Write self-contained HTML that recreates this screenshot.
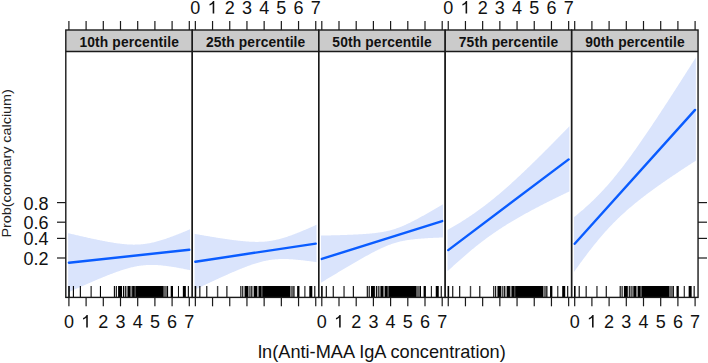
<!DOCTYPE html><html><head><meta charset="utf-8"><style>html,body{margin:0;padding:0;background:#fff;width:708px;height:363px;overflow:hidden}svg{display:block}text{font-family:"Liberation Sans",sans-serif}</style></head><body>
<svg width="708" height="363" viewBox="0 0 708 363">
<defs>
<clipPath id="c0"><rect x="65.80" y="51.50" width="126.45" height="245.90"/></clipPath>
<clipPath id="c1"><rect x="192.25" y="51.50" width="126.45" height="245.90"/></clipPath>
<clipPath id="c2"><rect x="318.70" y="51.50" width="126.45" height="245.90"/></clipPath>
<clipPath id="c3"><rect x="445.15" y="51.50" width="126.45" height="245.90"/></clipPath>
<clipPath id="c4"><rect x="571.60" y="51.50" width="126.45" height="245.90"/></clipPath>
</defs>
<g clip-path="url(#c0)"><path d="M68.13,233.14 L68.90,233.33 L69.76,233.53 L70.62,233.74 L71.48,233.94 L72.34,234.15 L73.20,234.35 L74.06,234.55 L74.92,234.75 L75.78,234.95 L76.64,235.15 L77.50,235.35 L78.36,235.55 L79.22,235.75 L80.08,235.95 L80.94,236.15 L81.80,236.34 L82.66,236.54 L83.52,236.73 L84.38,236.93 L85.24,237.12 L86.10,237.31 L86.96,237.51 L87.82,237.70 L88.68,237.89 L89.54,238.08 L90.40,238.26 L91.26,238.45 L92.12,238.64 L92.98,238.82 L93.84,239.01 L94.70,239.19 L95.56,239.37 L96.42,239.55 L97.28,239.73 L98.14,239.90 L99.00,240.08 L99.86,240.25 L100.72,240.42 L101.58,240.60 L102.44,240.76 L103.30,240.93 L104.16,241.10 L105.02,241.26 L105.88,241.42 L106.74,241.58 L107.60,241.73 L108.46,241.89 L109.32,242.04 L110.18,242.19 L111.04,242.33 L111.90,242.48 L112.76,242.62 L113.62,242.76 L114.48,242.89 L115.34,243.02 L116.20,243.15 L117.06,243.27 L117.92,243.39 L118.78,243.50 L119.64,243.61 L120.50,243.72 L121.36,243.82 L122.22,243.92 L123.08,244.01 L123.94,244.10 L124.80,244.18 L125.66,244.25 L126.52,244.32 L127.38,244.38 L128.24,244.44 L129.10,244.49 L129.96,244.53 L130.82,244.57 L131.68,244.59 L132.54,244.61 L133.40,244.63 L134.26,244.63 L135.12,244.62 L135.98,244.61 L136.84,244.59 L137.70,244.56 L138.56,244.52 L139.42,244.47 L140.28,244.41 L141.14,244.34 L142.00,244.26 L142.86,244.18 L143.72,244.08 L144.58,243.97 L145.44,243.86 L146.30,243.73 L147.16,243.60 L148.02,243.45 L148.88,243.30 L149.74,243.14 L150.60,242.97 L151.46,242.79 L152.32,242.60 L153.18,242.40 L154.04,242.20 L154.90,241.99 L155.76,241.77 L156.62,241.54 L157.48,241.31 L158.34,241.07 L159.20,240.82 L160.06,240.57 L160.92,240.31 L161.78,240.04 L162.64,239.77 L163.50,239.50 L164.36,239.21 L165.22,238.93 L166.08,238.64 L166.94,238.34 L167.80,238.04 L168.66,237.74 L169.52,237.43 L170.38,237.12 L171.24,236.81 L172.10,236.49 L172.96,236.17 L173.82,235.84 L174.68,235.52 L175.54,235.19 L176.40,234.85 L177.26,234.52 L178.12,234.18 L178.98,233.84 L179.84,233.50 L180.70,233.15 L181.56,232.80 L182.42,232.45 L183.28,232.10 L184.14,231.75 L185.00,231.39 L185.86,231.04 L186.72,230.68 L187.58,230.32 L188.44,229.96 L189.30,229.60 L190.07,229.27 L190.07,270.16 L189.30,270.00 L188.44,269.82 L187.58,269.65 L186.72,269.47 L185.86,269.30 L185.00,269.13 L184.14,268.96 L183.28,268.79 L182.42,268.62 L181.56,268.46 L180.70,268.29 L179.84,268.13 L178.98,267.97 L178.12,267.82 L177.26,267.66 L176.40,267.51 L175.54,267.36 L174.68,267.22 L173.82,267.07 L172.96,266.93 L172.10,266.80 L171.24,266.66 L170.38,266.53 L169.52,266.41 L168.66,266.28 L167.80,266.16 L166.94,266.05 L166.08,265.94 L165.22,265.83 L164.36,265.73 L163.50,265.63 L162.64,265.54 L161.78,265.46 L160.92,265.37 L160.06,265.30 L159.20,265.23 L158.34,265.17 L157.48,265.11 L156.62,265.06 L155.76,265.02 L154.90,264.99 L154.04,264.96 L153.18,264.94 L152.32,264.93 L151.46,264.92 L150.60,264.93 L149.74,264.94 L148.88,264.96 L148.02,264.99 L147.16,265.03 L146.30,265.08 L145.44,265.14 L144.58,265.21 L143.72,265.29 L142.86,265.38 L142.00,265.47 L141.14,265.58 L140.28,265.70 L139.42,265.82 L138.56,265.96 L137.70,266.10 L136.84,266.25 L135.98,266.41 L135.12,266.59 L134.26,266.77 L133.40,266.95 L132.54,267.15 L131.68,267.35 L130.82,267.57 L129.96,267.78 L129.10,268.01 L128.24,268.24 L127.38,268.49 L126.52,268.73 L125.66,268.99 L124.80,269.24 L123.94,269.51 L123.08,269.78 L122.22,270.06 L121.36,270.34 L120.50,270.62 L119.64,270.91 L118.78,271.21 L117.92,271.51 L117.06,271.81 L116.20,272.12 L115.34,272.43 L114.48,272.74 L113.62,273.06 L112.76,273.38 L111.90,273.71 L111.04,274.04 L110.18,274.37 L109.32,274.70 L108.46,275.03 L107.60,275.37 L106.74,275.71 L105.88,276.06 L105.02,276.40 L104.16,276.75 L103.30,277.10 L102.44,277.45 L101.58,277.80 L100.72,278.16 L99.86,278.51 L99.00,278.87 L98.14,279.23 L97.28,279.59 L96.42,279.95 L95.56,280.32 L94.70,280.68 L93.84,281.05 L92.98,281.42 L92.12,281.79 L91.26,282.16 L90.40,282.53 L89.54,282.90 L88.68,283.27 L87.82,283.65 L86.96,284.02 L86.10,284.40 L85.24,284.78 L84.38,285.15 L83.52,285.53 L82.66,285.91 L81.80,286.29 L80.94,286.67 L80.08,287.05 L79.22,287.44 L78.36,287.82 L77.50,288.20 L76.64,288.59 L75.78,288.97 L74.92,289.36 L74.06,289.74 L73.20,290.13 L72.34,290.52 L71.48,290.91 L70.62,291.29 L69.76,291.68 L68.90,292.07 L68.13,292.42Z" fill="#dae4fc"/>
<line x1="68.90" y1="262.70" x2="189.30" y2="249.80" stroke="#0a5cff" stroke-width="2.4" stroke-linecap="round"/>
<rect x="68.20" y="286" width="1.6" height="11.4" fill="#000" fill-opacity="1"/>
<rect x="72.85" y="286" width="1.1" height="11.4" fill="#000" fill-opacity="1"/>
<rect x="79.80" y="286" width="1.1" height="11.4" fill="#000" fill-opacity="1"/>
<rect x="90.45" y="286" width="1.4" height="11.4" fill="#000" fill-opacity="0.75"/>
<rect x="99.90" y="286" width="1.1" height="11.4" fill="#000" fill-opacity="1"/>
<rect x="113.85" y="286" width="1.1" height="11.4" fill="#000" fill-opacity="1"/>
<rect x="115.75" y="286" width="1.1" height="11.4" fill="#000" fill-opacity="1"/>
<rect x="122.95" y="286" width="1.1" height="11.4" fill="#000" fill-opacity="1"/>
<rect x="124.75" y="286" width="1.1" height="11.4" fill="#000" fill-opacity="1"/>
<rect x="166.90" y="286" width="1.2" height="11.4" fill="#000" fill-opacity="1"/>
<rect x="177.95" y="286" width="1.0" height="11.4" fill="#000" fill-opacity="1"/>
<rect x="187.80" y="286" width="1.1" height="11.4" fill="#000" fill-opacity="1"/>
<rect x="118.10" y="286" width="3.90" height="11.4" fill="#000" fill-opacity="1"/>
<rect x="126.20" y="286" width="1.00" height="11.4" fill="#000" fill-opacity="0.5"/>
<rect x="127.50" y="286" width="3.10" height="11.4" fill="#000" fill-opacity="1"/>
<rect x="130.90" y="286" width="1.00" height="11.4" fill="#000" fill-opacity="0.55"/>
<rect x="132.10" y="286" width="2.70" height="11.4" fill="#000" fill-opacity="1"/>
<rect x="134.80" y="286" width="1.00" height="11.4" fill="#000" fill-opacity="0.8"/>
<rect x="135.80" y="286" width="27.90" height="11.4" fill="#000" fill-opacity="1"/>
<rect x="163.90" y="286" width="3.00" height="11.4" fill="#000" fill-opacity="0.6"/>
<rect x="170.70" y="286" width="2.30" height="11.4" fill="#000" fill-opacity="1"/>
<rect x="182.85" y="286" width="3.00" height="11.4" fill="#000" fill-opacity="1"/>
</g>
<rect x="65.80" y="30.0" width="126.45" height="21.5" fill="#cbcbcb"/>
<text x="79.43" y="47" font-size="13.8" font-weight="bold" textLength="99.4" lengthAdjust="spacing" fill="#111">10th percentile</text>
<line x1="68.90" y1="21" x2="68.90" y2="30.0" stroke="#1a1a1a" stroke-width="1.2"/>
<line x1="68.90" y1="297.4" x2="68.90" y2="306.3" stroke="#1a1a1a" stroke-width="1.2"/>
<line x1="86.10" y1="21" x2="86.10" y2="30.0" stroke="#1a1a1a" stroke-width="1.2"/>
<line x1="86.10" y1="297.4" x2="86.10" y2="306.3" stroke="#1a1a1a" stroke-width="1.2"/>
<line x1="103.30" y1="21" x2="103.30" y2="30.0" stroke="#1a1a1a" stroke-width="1.2"/>
<line x1="103.30" y1="297.4" x2="103.30" y2="306.3" stroke="#1a1a1a" stroke-width="1.2"/>
<line x1="120.50" y1="21" x2="120.50" y2="30.0" stroke="#1a1a1a" stroke-width="1.2"/>
<line x1="120.50" y1="297.4" x2="120.50" y2="306.3" stroke="#1a1a1a" stroke-width="1.2"/>
<line x1="137.70" y1="21" x2="137.70" y2="30.0" stroke="#1a1a1a" stroke-width="1.2"/>
<line x1="137.70" y1="297.4" x2="137.70" y2="306.3" stroke="#1a1a1a" stroke-width="1.2"/>
<line x1="154.90" y1="21" x2="154.90" y2="30.0" stroke="#1a1a1a" stroke-width="1.2"/>
<line x1="154.90" y1="297.4" x2="154.90" y2="306.3" stroke="#1a1a1a" stroke-width="1.2"/>
<line x1="172.10" y1="21" x2="172.10" y2="30.0" stroke="#1a1a1a" stroke-width="1.2"/>
<line x1="172.10" y1="297.4" x2="172.10" y2="306.3" stroke="#1a1a1a" stroke-width="1.2"/>
<line x1="189.30" y1="21" x2="189.30" y2="30.0" stroke="#1a1a1a" stroke-width="1.2"/>
<line x1="189.30" y1="297.4" x2="189.30" y2="306.3" stroke="#1a1a1a" stroke-width="1.2"/>
<text x="68.90" y="327.5" font-size="18" text-anchor="middle" fill="#111">0</text>
<path transform="translate(81.095,327.5) scale(0.008789,-0.008789)" d="M763,0L583,0L583,1102Q520,1045 418,987Q316,929 223,901L223,1069Q367,1134 475,1226Q583,1318 628,1409L763,1409Z" fill="#111"/>
<text x="103.30" y="327.5" font-size="18" text-anchor="middle" fill="#111">2</text>
<text x="120.50" y="327.5" font-size="18" text-anchor="middle" fill="#111">3</text>
<text x="137.70" y="327.5" font-size="18" text-anchor="middle" fill="#111">4</text>
<text x="154.90" y="327.5" font-size="18" text-anchor="middle" fill="#111">5</text>
<text x="172.10" y="327.5" font-size="18" text-anchor="middle" fill="#111">6</text>
<text x="189.30" y="327.5" font-size="18" text-anchor="middle" fill="#111">7</text>
<g clip-path="url(#c1)"><path d="M194.58,233.87 L195.35,234.01 L196.21,234.16 L197.07,234.31 L197.93,234.46 L198.79,234.61 L199.65,234.76 L200.51,234.91 L201.37,235.06 L202.23,235.21 L203.09,235.35 L203.95,235.50 L204.81,235.65 L205.67,235.79 L206.53,235.94 L207.39,236.09 L208.25,236.23 L209.11,236.37 L209.97,236.52 L210.83,236.66 L211.69,236.80 L212.55,236.94 L213.41,237.08 L214.27,237.22 L215.13,237.36 L215.99,237.50 L216.85,237.64 L217.71,237.77 L218.57,237.91 L219.43,238.04 L220.29,238.18 L221.15,238.31 L222.01,238.44 L222.87,238.57 L223.73,238.70 L224.59,238.83 L225.45,238.95 L226.31,239.08 L227.17,239.20 L228.03,239.33 L228.89,239.45 L229.75,239.57 L230.61,239.68 L231.47,239.80 L232.33,239.91 L233.19,240.03 L234.05,240.14 L234.91,240.24 L235.77,240.35 L236.63,240.45 L237.49,240.55 L238.35,240.65 L239.21,240.75 L240.07,240.84 L240.93,240.93 L241.79,241.02 L242.65,241.11 L243.51,241.19 L244.37,241.27 L245.23,241.34 L246.09,241.41 L246.95,241.48 L247.81,241.54 L248.67,241.60 L249.53,241.65 L250.39,241.70 L251.25,241.74 L252.11,241.78 L252.97,241.81 L253.83,241.84 L254.69,241.86 L255.55,241.88 L256.41,241.88 L257.27,241.89 L258.13,241.88 L258.99,241.87 L259.85,241.85 L260.71,241.82 L261.57,241.79 L262.43,241.74 L263.29,241.69 L264.15,241.63 L265.01,241.56 L265.87,241.48 L266.73,241.39 L267.59,241.30 L268.45,241.19 L269.31,241.08 L270.17,240.95 L271.03,240.82 L271.89,240.67 L272.75,240.52 L273.61,240.36 L274.47,240.19 L275.33,240.01 L276.19,239.82 L277.05,239.62 L277.91,239.41 L278.77,239.20 L279.63,238.98 L280.49,238.75 L281.35,238.51 L282.21,238.26 L283.07,238.01 L283.93,237.75 L284.79,237.48 L285.65,237.21 L286.51,236.93 L287.37,236.64 L288.23,236.35 L289.09,236.05 L289.95,235.75 L290.81,235.44 L291.67,235.13 L292.53,234.82 L293.39,234.49 L294.25,234.17 L295.11,233.84 L295.97,233.51 L296.83,233.17 L297.69,232.83 L298.55,232.49 L299.41,232.14 L300.27,231.79 L301.13,231.44 L301.99,231.09 L302.85,230.73 L303.71,230.37 L304.57,230.01 L305.43,229.64 L306.29,229.28 L307.15,228.91 L308.01,228.54 L308.87,228.16 L309.73,227.79 L310.59,227.41 L311.45,227.04 L312.31,226.66 L313.17,226.27 L314.03,225.89 L314.89,225.51 L315.75,225.12 L316.52,224.78 L316.52,262.19 L315.75,262.08 L314.89,261.95 L314.03,261.82 L313.17,261.70 L312.31,261.58 L311.45,261.46 L310.59,261.34 L309.73,261.22 L308.87,261.11 L308.01,260.99 L307.15,260.88 L306.29,260.77 L305.43,260.66 L304.57,260.55 L303.71,260.45 L302.85,260.35 L301.99,260.25 L301.13,260.15 L300.27,260.06 L299.41,259.97 L298.55,259.88 L297.69,259.80 L296.83,259.72 L295.97,259.64 L295.11,259.57 L294.25,259.49 L293.39,259.43 L292.53,259.37 L291.67,259.31 L290.81,259.25 L289.95,259.21 L289.09,259.16 L288.23,259.12 L287.37,259.09 L286.51,259.06 L285.65,259.04 L284.79,259.03 L283.93,259.02 L283.07,259.02 L282.21,259.02 L281.35,259.04 L280.49,259.06 L279.63,259.08 L278.77,259.12 L277.91,259.16 L277.05,259.21 L276.19,259.27 L275.33,259.34 L274.47,259.42 L273.61,259.51 L272.75,259.61 L271.89,259.71 L271.03,259.83 L270.17,259.95 L269.31,260.09 L268.45,260.23 L267.59,260.38 L266.73,260.54 L265.87,260.72 L265.01,260.90 L264.15,261.08 L263.29,261.28 L262.43,261.49 L261.57,261.70 L260.71,261.93 L259.85,262.16 L258.99,262.40 L258.13,262.64 L257.27,262.90 L256.41,263.16 L255.55,263.42 L254.69,263.70 L253.83,263.98 L252.97,264.26 L252.11,264.55 L251.25,264.85 L250.39,265.15 L249.53,265.46 L248.67,265.77 L247.81,266.09 L246.95,266.41 L246.09,266.73 L245.23,267.06 L244.37,267.40 L243.51,267.73 L242.65,268.07 L241.79,268.42 L240.93,268.76 L240.07,269.11 L239.21,269.46 L238.35,269.82 L237.49,270.18 L236.63,270.54 L235.77,270.90 L234.91,271.26 L234.05,271.63 L233.19,272.00 L232.33,272.37 L231.47,272.74 L230.61,273.12 L229.75,273.49 L228.89,273.87 L228.03,274.25 L227.17,274.63 L226.31,275.01 L225.45,275.40 L224.59,275.78 L223.73,276.17 L222.87,276.55 L222.01,276.94 L221.15,277.33 L220.29,277.72 L219.43,278.12 L218.57,278.51 L217.71,278.90 L216.85,279.30 L215.99,279.69 L215.13,280.09 L214.27,280.49 L213.41,280.89 L212.55,281.29 L211.69,281.69 L210.83,282.09 L209.97,282.49 L209.11,282.89 L208.25,283.29 L207.39,283.69 L206.53,284.10 L205.67,284.50 L204.81,284.91 L203.95,285.31 L203.09,285.72 L202.23,286.13 L201.37,286.53 L200.51,286.94 L199.65,287.35 L198.79,287.76 L197.93,288.16 L197.07,288.57 L196.21,288.98 L195.35,289.39 L194.58,289.76Z" fill="#dae4fc"/>
<line x1="195.35" y1="261.70" x2="315.75" y2="243.60" stroke="#0a5cff" stroke-width="2.4" stroke-linecap="round"/>
<rect x="194.65" y="286" width="1.6" height="11.4" fill="#000" fill-opacity="1"/>
<rect x="199.30" y="286" width="1.1" height="11.4" fill="#000" fill-opacity="1"/>
<rect x="206.25" y="286" width="1.1" height="11.4" fill="#000" fill-opacity="1"/>
<rect x="216.90" y="286" width="1.4" height="11.4" fill="#000" fill-opacity="0.75"/>
<rect x="226.35" y="286" width="1.1" height="11.4" fill="#000" fill-opacity="1"/>
<rect x="240.30" y="286" width="1.1" height="11.4" fill="#000" fill-opacity="1"/>
<rect x="242.20" y="286" width="1.1" height="11.4" fill="#000" fill-opacity="1"/>
<rect x="249.40" y="286" width="1.1" height="11.4" fill="#000" fill-opacity="1"/>
<rect x="251.20" y="286" width="1.1" height="11.4" fill="#000" fill-opacity="1"/>
<rect x="293.35" y="286" width="1.2" height="11.4" fill="#000" fill-opacity="1"/>
<rect x="304.40" y="286" width="1.0" height="11.4" fill="#000" fill-opacity="1"/>
<rect x="314.25" y="286" width="1.1" height="11.4" fill="#000" fill-opacity="1"/>
<rect x="244.55" y="286" width="3.90" height="11.4" fill="#000" fill-opacity="1"/>
<rect x="252.65" y="286" width="1.00" height="11.4" fill="#000" fill-opacity="0.5"/>
<rect x="253.95" y="286" width="3.10" height="11.4" fill="#000" fill-opacity="1"/>
<rect x="257.35" y="286" width="1.00" height="11.4" fill="#000" fill-opacity="0.55"/>
<rect x="258.55" y="286" width="2.70" height="11.4" fill="#000" fill-opacity="1"/>
<rect x="261.25" y="286" width="1.00" height="11.4" fill="#000" fill-opacity="0.8"/>
<rect x="262.25" y="286" width="27.90" height="11.4" fill="#000" fill-opacity="1"/>
<rect x="290.35" y="286" width="3.00" height="11.4" fill="#000" fill-opacity="0.6"/>
<rect x="297.15" y="286" width="2.30" height="11.4" fill="#000" fill-opacity="1"/>
<rect x="309.30" y="286" width="3.00" height="11.4" fill="#000" fill-opacity="1"/>
</g>
<rect x="192.25" y="30.0" width="126.45" height="21.5" fill="#cbcbcb"/>
<text x="205.88" y="47" font-size="13.8" font-weight="bold" textLength="99.4" lengthAdjust="spacing" fill="#111">25th percentile</text>
<line x1="195.35" y1="21" x2="195.35" y2="30.0" stroke="#1a1a1a" stroke-width="1.2"/>
<line x1="195.35" y1="297.4" x2="195.35" y2="306.3" stroke="#1a1a1a" stroke-width="1.2"/>
<line x1="212.55" y1="21" x2="212.55" y2="30.0" stroke="#1a1a1a" stroke-width="1.2"/>
<line x1="212.55" y1="297.4" x2="212.55" y2="306.3" stroke="#1a1a1a" stroke-width="1.2"/>
<line x1="229.75" y1="21" x2="229.75" y2="30.0" stroke="#1a1a1a" stroke-width="1.2"/>
<line x1="229.75" y1="297.4" x2="229.75" y2="306.3" stroke="#1a1a1a" stroke-width="1.2"/>
<line x1="246.95" y1="21" x2="246.95" y2="30.0" stroke="#1a1a1a" stroke-width="1.2"/>
<line x1="246.95" y1="297.4" x2="246.95" y2="306.3" stroke="#1a1a1a" stroke-width="1.2"/>
<line x1="264.15" y1="21" x2="264.15" y2="30.0" stroke="#1a1a1a" stroke-width="1.2"/>
<line x1="264.15" y1="297.4" x2="264.15" y2="306.3" stroke="#1a1a1a" stroke-width="1.2"/>
<line x1="281.35" y1="21" x2="281.35" y2="30.0" stroke="#1a1a1a" stroke-width="1.2"/>
<line x1="281.35" y1="297.4" x2="281.35" y2="306.3" stroke="#1a1a1a" stroke-width="1.2"/>
<line x1="298.55" y1="21" x2="298.55" y2="30.0" stroke="#1a1a1a" stroke-width="1.2"/>
<line x1="298.55" y1="297.4" x2="298.55" y2="306.3" stroke="#1a1a1a" stroke-width="1.2"/>
<line x1="315.75" y1="21" x2="315.75" y2="30.0" stroke="#1a1a1a" stroke-width="1.2"/>
<line x1="315.75" y1="297.4" x2="315.75" y2="306.3" stroke="#1a1a1a" stroke-width="1.2"/>
<text x="195.35" y="13.5" font-size="18" text-anchor="middle" fill="#111">0</text>
<path transform="translate(207.545,13.5) scale(0.008789,-0.008789)" d="M763,0L583,0L583,1102Q520,1045 418,987Q316,929 223,901L223,1069Q367,1134 475,1226Q583,1318 628,1409L763,1409Z" fill="#111"/>
<text x="229.75" y="13.5" font-size="18" text-anchor="middle" fill="#111">2</text>
<text x="246.95" y="13.5" font-size="18" text-anchor="middle" fill="#111">3</text>
<text x="264.15" y="13.5" font-size="18" text-anchor="middle" fill="#111">4</text>
<text x="281.35" y="13.5" font-size="18" text-anchor="middle" fill="#111">5</text>
<text x="298.55" y="13.5" font-size="18" text-anchor="middle" fill="#111">6</text>
<text x="315.75" y="13.5" font-size="18" text-anchor="middle" fill="#111">7</text>
<g clip-path="url(#c2)"><path d="M321.03,235.58 L321.80,235.57 L322.66,235.55 L323.52,235.53 L324.38,235.51 L325.24,235.49 L326.10,235.48 L326.96,235.46 L327.82,235.44 L328.68,235.42 L329.54,235.40 L330.40,235.38 L331.26,235.36 L332.12,235.34 L332.98,235.32 L333.84,235.29 L334.70,235.27 L335.56,235.25 L336.42,235.22 L337.28,235.20 L338.14,235.18 L339.00,235.15 L339.86,235.13 L340.72,235.10 L341.58,235.07 L342.44,235.05 L343.30,235.02 L344.16,234.99 L345.02,234.96 L345.88,234.93 L346.74,234.90 L347.60,234.87 L348.46,234.84 L349.32,234.80 L350.18,234.77 L351.04,234.73 L351.90,234.70 L352.76,234.66 L353.62,234.62 L354.48,234.58 L355.34,234.54 L356.20,234.50 L357.06,234.46 L357.92,234.41 L358.78,234.37 L359.64,234.32 L360.50,234.27 L361.36,234.22 L362.22,234.16 L363.08,234.11 L363.94,234.05 L364.80,233.99 L365.66,233.93 L366.52,233.86 L367.38,233.80 L368.24,233.73 L369.10,233.65 L369.96,233.58 L370.82,233.50 L371.68,233.42 L372.54,233.33 L373.40,233.24 L374.26,233.15 L375.12,233.05 L375.98,232.95 L376.84,232.84 L377.70,232.73 L378.56,232.61 L379.42,232.49 L380.28,232.36 L381.14,232.22 L382.00,232.08 L382.86,231.93 L383.72,231.77 L384.58,231.61 L385.44,231.44 L386.30,231.25 L387.16,231.07 L388.02,230.87 L388.88,230.66 L389.74,230.45 L390.60,230.22 L391.46,229.99 L392.32,229.74 L393.18,229.48 L394.04,229.22 L394.90,228.94 L395.76,228.66 L396.62,228.37 L397.48,228.06 L398.34,227.75 L399.20,227.42 L400.06,227.09 L400.92,226.75 L401.78,226.39 L402.64,226.04 L403.50,225.67 L404.36,225.29 L405.22,224.91 L406.08,224.52 L406.94,224.12 L407.80,223.72 L408.66,223.31 L409.52,222.89 L410.38,222.47 L411.24,222.04 L412.10,221.61 L412.96,221.17 L413.82,220.73 L414.68,220.28 L415.54,219.83 L416.40,219.38 L417.26,218.92 L418.12,218.46 L418.98,217.99 L419.84,217.53 L420.70,217.06 L421.56,216.58 L422.42,216.11 L423.28,215.63 L424.14,215.15 L425.00,214.67 L425.86,214.18 L426.72,213.70 L427.58,213.21 L428.44,212.72 L429.30,212.23 L430.16,211.73 L431.02,211.24 L431.88,210.74 L432.74,210.24 L433.60,209.74 L434.46,209.24 L435.32,208.74 L436.18,208.24 L437.04,207.73 L437.90,207.23 L438.76,206.72 L439.62,206.22 L440.48,205.71 L441.34,205.20 L442.20,204.69 L442.97,204.23 L442.97,237.48 L442.20,237.51 L441.34,237.54 L440.48,237.57 L439.62,237.60 L438.76,237.64 L437.90,237.67 L437.04,237.71 L436.18,237.74 L435.32,237.78 L434.46,237.82 L433.60,237.86 L432.74,237.90 L431.88,237.94 L431.02,237.98 L430.16,238.03 L429.30,238.07 L428.44,238.12 L427.58,238.17 L426.72,238.22 L425.86,238.28 L425.00,238.33 L424.14,238.39 L423.28,238.45 L422.42,238.51 L421.56,238.58 L420.70,238.64 L419.84,238.71 L418.98,238.79 L418.12,238.86 L417.26,238.94 L416.40,239.02 L415.54,239.11 L414.68,239.20 L413.82,239.29 L412.96,239.39 L412.10,239.49 L411.24,239.60 L410.38,239.71 L409.52,239.83 L408.66,239.95 L407.80,240.08 L406.94,240.22 L406.08,240.36 L405.22,240.51 L404.36,240.67 L403.50,240.83 L402.64,241.00 L401.78,241.19 L400.92,241.37 L400.06,241.57 L399.20,241.78 L398.34,241.99 L397.48,242.22 L396.62,242.45 L395.76,242.70 L394.90,242.96 L394.04,243.22 L393.18,243.50 L392.32,243.78 L391.46,244.07 L390.60,244.38 L389.74,244.69 L388.88,245.02 L388.02,245.35 L387.16,245.69 L386.30,246.05 L385.44,246.40 L384.58,246.77 L383.72,247.15 L382.86,247.53 L382.00,247.92 L381.14,248.32 L380.28,248.72 L379.42,249.13 L378.56,249.55 L377.70,249.97 L376.84,250.40 L375.98,250.83 L375.12,251.27 L374.26,251.71 L373.40,252.16 L372.54,252.61 L371.68,253.06 L370.82,253.52 L369.96,253.98 L369.10,254.45 L368.24,254.91 L367.38,255.38 L366.52,255.86 L365.66,256.33 L364.80,256.81 L363.94,257.29 L363.08,257.77 L362.22,258.26 L361.36,258.74 L360.50,259.23 L359.64,259.72 L358.78,260.21 L357.92,260.71 L357.06,261.20 L356.20,261.70 L355.34,262.20 L354.48,262.70 L353.62,263.20 L352.76,263.70 L351.90,264.20 L351.04,264.71 L350.18,265.21 L349.32,265.72 L348.46,266.22 L347.60,266.73 L346.74,267.24 L345.88,267.75 L345.02,268.26 L344.16,268.77 L343.30,269.28 L342.44,269.79 L341.58,270.31 L340.72,270.82 L339.86,271.33 L339.00,271.85 L338.14,272.36 L337.28,272.88 L336.42,273.40 L335.56,273.91 L334.70,274.43 L333.84,274.95 L332.98,275.46 L332.12,275.98 L331.26,276.50 L330.40,277.02 L329.54,277.54 L328.68,278.06 L327.82,278.58 L326.96,279.10 L326.10,279.62 L325.24,280.15 L324.38,280.67 L323.52,281.19 L322.66,281.71 L321.80,282.23 L321.03,282.71Z" fill="#dae4fc"/>
<line x1="321.80" y1="258.90" x2="442.20" y2="221.10" stroke="#0a5cff" stroke-width="2.4" stroke-linecap="round"/>
<rect x="321.10" y="286" width="1.6" height="11.4" fill="#000" fill-opacity="1"/>
<rect x="325.75" y="286" width="1.1" height="11.4" fill="#000" fill-opacity="1"/>
<rect x="332.70" y="286" width="1.1" height="11.4" fill="#000" fill-opacity="1"/>
<rect x="343.35" y="286" width="1.4" height="11.4" fill="#000" fill-opacity="0.75"/>
<rect x="352.80" y="286" width="1.1" height="11.4" fill="#000" fill-opacity="1"/>
<rect x="366.75" y="286" width="1.1" height="11.4" fill="#000" fill-opacity="1"/>
<rect x="368.65" y="286" width="1.1" height="11.4" fill="#000" fill-opacity="1"/>
<rect x="375.85" y="286" width="1.1" height="11.4" fill="#000" fill-opacity="1"/>
<rect x="377.65" y="286" width="1.1" height="11.4" fill="#000" fill-opacity="1"/>
<rect x="419.80" y="286" width="1.2" height="11.4" fill="#000" fill-opacity="1"/>
<rect x="430.85" y="286" width="1.0" height="11.4" fill="#000" fill-opacity="1"/>
<rect x="440.70" y="286" width="1.1" height="11.4" fill="#000" fill-opacity="1"/>
<rect x="371.00" y="286" width="3.90" height="11.4" fill="#000" fill-opacity="1"/>
<rect x="379.10" y="286" width="1.00" height="11.4" fill="#000" fill-opacity="0.5"/>
<rect x="380.40" y="286" width="3.10" height="11.4" fill="#000" fill-opacity="1"/>
<rect x="383.80" y="286" width="1.00" height="11.4" fill="#000" fill-opacity="0.55"/>
<rect x="385.00" y="286" width="2.70" height="11.4" fill="#000" fill-opacity="1"/>
<rect x="387.70" y="286" width="1.00" height="11.4" fill="#000" fill-opacity="0.8"/>
<rect x="388.70" y="286" width="27.90" height="11.4" fill="#000" fill-opacity="1"/>
<rect x="416.80" y="286" width="3.00" height="11.4" fill="#000" fill-opacity="0.6"/>
<rect x="423.60" y="286" width="2.30" height="11.4" fill="#000" fill-opacity="1"/>
<rect x="435.75" y="286" width="3.00" height="11.4" fill="#000" fill-opacity="1"/>
</g>
<rect x="318.70" y="30.0" width="126.45" height="21.5" fill="#cbcbcb"/>
<text x="332.32" y="47" font-size="13.8" font-weight="bold" textLength="99.4" lengthAdjust="spacing" fill="#111">50th percentile</text>
<line x1="321.80" y1="21" x2="321.80" y2="30.0" stroke="#1a1a1a" stroke-width="1.2"/>
<line x1="321.80" y1="297.4" x2="321.80" y2="306.3" stroke="#1a1a1a" stroke-width="1.2"/>
<line x1="339.00" y1="21" x2="339.00" y2="30.0" stroke="#1a1a1a" stroke-width="1.2"/>
<line x1="339.00" y1="297.4" x2="339.00" y2="306.3" stroke="#1a1a1a" stroke-width="1.2"/>
<line x1="356.20" y1="21" x2="356.20" y2="30.0" stroke="#1a1a1a" stroke-width="1.2"/>
<line x1="356.20" y1="297.4" x2="356.20" y2="306.3" stroke="#1a1a1a" stroke-width="1.2"/>
<line x1="373.40" y1="21" x2="373.40" y2="30.0" stroke="#1a1a1a" stroke-width="1.2"/>
<line x1="373.40" y1="297.4" x2="373.40" y2="306.3" stroke="#1a1a1a" stroke-width="1.2"/>
<line x1="390.60" y1="21" x2="390.60" y2="30.0" stroke="#1a1a1a" stroke-width="1.2"/>
<line x1="390.60" y1="297.4" x2="390.60" y2="306.3" stroke="#1a1a1a" stroke-width="1.2"/>
<line x1="407.80" y1="21" x2="407.80" y2="30.0" stroke="#1a1a1a" stroke-width="1.2"/>
<line x1="407.80" y1="297.4" x2="407.80" y2="306.3" stroke="#1a1a1a" stroke-width="1.2"/>
<line x1="425.00" y1="21" x2="425.00" y2="30.0" stroke="#1a1a1a" stroke-width="1.2"/>
<line x1="425.00" y1="297.4" x2="425.00" y2="306.3" stroke="#1a1a1a" stroke-width="1.2"/>
<line x1="442.20" y1="21" x2="442.20" y2="30.0" stroke="#1a1a1a" stroke-width="1.2"/>
<line x1="442.20" y1="297.4" x2="442.20" y2="306.3" stroke="#1a1a1a" stroke-width="1.2"/>
<text x="321.80" y="327.5" font-size="18" text-anchor="middle" fill="#111">0</text>
<path transform="translate(333.995,327.5) scale(0.008789,-0.008789)" d="M763,0L583,0L583,1102Q520,1045 418,987Q316,929 223,901L223,1069Q367,1134 475,1226Q583,1318 628,1409L763,1409Z" fill="#111"/>
<text x="356.20" y="327.5" font-size="18" text-anchor="middle" fill="#111">2</text>
<text x="373.40" y="327.5" font-size="18" text-anchor="middle" fill="#111">3</text>
<text x="390.60" y="327.5" font-size="18" text-anchor="middle" fill="#111">4</text>
<text x="407.80" y="327.5" font-size="18" text-anchor="middle" fill="#111">5</text>
<text x="425.00" y="327.5" font-size="18" text-anchor="middle" fill="#111">6</text>
<text x="442.20" y="327.5" font-size="18" text-anchor="middle" fill="#111">7</text>
<g clip-path="url(#c3)"><path d="M447.48,230.02 L448.25,229.58 L449.11,229.09 L449.97,228.59 L450.83,228.09 L451.69,227.59 L452.55,227.09 L453.41,226.58 L454.27,226.07 L455.13,225.56 L455.99,225.04 L456.85,224.52 L457.71,224.00 L458.57,223.47 L459.43,222.95 L460.29,222.41 L461.15,221.88 L462.01,221.34 L462.87,220.79 L463.73,220.25 L464.59,219.70 L465.45,219.14 L466.31,218.59 L467.17,218.02 L468.03,217.46 L468.89,216.89 L469.75,216.31 L470.61,215.73 L471.47,215.15 L472.33,214.57 L473.19,213.97 L474.05,213.38 L474.91,212.78 L475.77,212.18 L476.63,211.57 L477.49,210.95 L478.35,210.34 L479.21,209.72 L480.07,209.09 L480.93,208.46 L481.79,207.82 L482.65,207.18 L483.51,206.54 L484.37,205.89 L485.23,205.23 L486.09,204.58 L486.95,203.91 L487.81,203.25 L488.67,202.57 L489.53,201.90 L490.39,201.22 L491.25,200.53 L492.11,199.84 L492.97,199.15 L493.83,198.45 L494.69,197.74 L495.55,197.04 L496.41,196.33 L497.27,195.61 L498.13,194.89 L498.99,194.17 L499.85,193.44 L500.71,192.71 L501.57,191.97 L502.43,191.23 L503.29,190.49 L504.15,189.74 L505.01,188.99 L505.87,188.23 L506.73,187.47 L507.59,186.71 L508.45,185.95 L509.31,185.18 L510.17,184.41 L511.03,183.63 L511.89,182.85 L512.75,182.07 L513.61,181.29 L514.47,180.50 L515.33,179.71 L516.19,178.91 L517.05,178.12 L517.91,177.32 L518.77,176.52 L519.63,175.71 L520.49,174.91 L521.35,174.10 L522.21,173.28 L523.07,172.47 L523.93,171.65 L524.79,170.83 L525.65,170.01 L526.51,169.19 L527.37,168.36 L528.23,167.54 L529.09,166.71 L529.95,165.88 L530.81,165.04 L531.67,164.21 L532.53,163.37 L533.39,162.53 L534.25,161.69 L535.11,160.85 L535.97,160.00 L536.83,159.16 L537.69,158.31 L538.55,157.46 L539.41,156.61 L540.27,155.76 L541.13,154.91 L541.99,154.05 L542.85,153.19 L543.71,152.34 L544.57,151.48 L545.43,150.62 L546.29,149.76 L547.15,148.90 L548.01,148.03 L548.87,147.17 L549.73,146.30 L550.59,145.43 L551.45,144.57 L552.31,143.70 L553.17,142.83 L554.03,141.96 L554.89,141.08 L555.75,140.21 L556.61,139.34 L557.47,138.46 L558.33,137.59 L559.19,136.71 L560.05,135.83 L560.91,134.95 L561.77,134.07 L562.63,133.19 L563.49,132.31 L564.35,131.43 L565.21,130.55 L566.07,129.67 L566.93,128.78 L567.79,127.90 L568.65,127.01 L569.42,126.22 L569.42,191.42 L568.65,191.79 L567.79,192.20 L566.93,192.61 L566.07,193.02 L565.21,193.43 L564.35,193.85 L563.49,194.26 L562.63,194.68 L561.77,195.09 L560.91,195.51 L560.05,195.93 L559.19,196.34 L558.33,196.76 L557.47,197.18 L556.61,197.60 L555.75,198.03 L554.89,198.45 L554.03,198.87 L553.17,199.30 L552.31,199.72 L551.45,200.15 L550.59,200.58 L549.73,201.00 L548.87,201.43 L548.01,201.87 L547.15,202.30 L546.29,202.73 L545.43,203.17 L544.57,203.60 L543.71,204.04 L542.85,204.48 L541.99,204.92 L541.13,205.36 L540.27,205.80 L539.41,206.24 L538.55,206.69 L537.69,207.14 L536.83,207.58 L535.97,208.03 L535.11,208.49 L534.25,208.94 L533.39,209.39 L532.53,209.85 L531.67,210.31 L530.81,210.77 L529.95,211.23 L529.09,211.70 L528.23,212.16 L527.37,212.63 L526.51,213.10 L525.65,213.57 L524.79,214.05 L523.93,214.52 L523.07,215.00 L522.21,215.48 L521.35,215.97 L520.49,216.45 L519.63,216.94 L518.77,217.43 L517.91,217.93 L517.05,218.43 L516.19,218.92 L515.33,219.43 L514.47,219.93 L513.61,220.44 L512.75,220.95 L511.89,221.47 L511.03,221.98 L510.17,222.50 L509.31,223.03 L508.45,223.55 L507.59,224.08 L506.73,224.62 L505.87,225.15 L505.01,225.70 L504.15,226.24 L503.29,226.79 L502.43,227.34 L501.57,227.90 L500.71,228.46 L499.85,229.02 L498.99,229.59 L498.13,230.16 L497.27,230.73 L496.41,231.31 L495.55,231.90 L494.69,232.49 L493.83,233.08 L492.97,233.68 L492.11,234.28 L491.25,234.88 L490.39,235.49 L489.53,236.11 L488.67,236.73 L487.81,237.35 L486.95,237.98 L486.09,238.61 L485.23,239.25 L484.37,239.89 L483.51,240.54 L482.65,241.19 L481.79,241.84 L480.93,242.50 L480.07,243.17 L479.21,243.84 L478.35,244.51 L477.49,245.19 L476.63,245.87 L475.77,246.56 L474.91,247.25 L474.05,247.95 L473.19,248.65 L472.33,249.35 L471.47,250.06 L470.61,250.78 L469.75,251.49 L468.89,252.22 L468.03,252.94 L467.17,253.67 L466.31,254.40 L465.45,255.14 L464.59,255.88 L463.73,256.63 L462.87,257.38 L462.01,258.13 L461.15,258.89 L460.29,259.65 L459.43,260.41 L458.57,261.18 L457.71,261.95 L456.85,262.72 L455.99,263.50 L455.13,264.28 L454.27,265.06 L453.41,265.85 L452.55,266.63 L451.69,267.43 L450.83,268.22 L449.97,269.02 L449.11,269.82 L448.25,270.62 L447.48,271.35Z" fill="#dae4fc"/>
<line x1="448.25" y1="250.10" x2="568.65" y2="159.40" stroke="#0a5cff" stroke-width="2.4" stroke-linecap="round"/>
<rect x="447.55" y="286" width="1.6" height="11.4" fill="#000" fill-opacity="1"/>
<rect x="452.20" y="286" width="1.1" height="11.4" fill="#000" fill-opacity="1"/>
<rect x="459.15" y="286" width="1.1" height="11.4" fill="#000" fill-opacity="1"/>
<rect x="469.80" y="286" width="1.4" height="11.4" fill="#000" fill-opacity="0.75"/>
<rect x="479.25" y="286" width="1.1" height="11.4" fill="#000" fill-opacity="1"/>
<rect x="493.20" y="286" width="1.1" height="11.4" fill="#000" fill-opacity="1"/>
<rect x="495.10" y="286" width="1.1" height="11.4" fill="#000" fill-opacity="1"/>
<rect x="502.30" y="286" width="1.1" height="11.4" fill="#000" fill-opacity="1"/>
<rect x="504.10" y="286" width="1.1" height="11.4" fill="#000" fill-opacity="1"/>
<rect x="546.25" y="286" width="1.2" height="11.4" fill="#000" fill-opacity="1"/>
<rect x="557.30" y="286" width="1.0" height="11.4" fill="#000" fill-opacity="1"/>
<rect x="567.15" y="286" width="1.1" height="11.4" fill="#000" fill-opacity="1"/>
<rect x="497.45" y="286" width="3.90" height="11.4" fill="#000" fill-opacity="1"/>
<rect x="505.55" y="286" width="1.00" height="11.4" fill="#000" fill-opacity="0.5"/>
<rect x="506.85" y="286" width="3.10" height="11.4" fill="#000" fill-opacity="1"/>
<rect x="510.25" y="286" width="1.00" height="11.4" fill="#000" fill-opacity="0.55"/>
<rect x="511.45" y="286" width="2.70" height="11.4" fill="#000" fill-opacity="1"/>
<rect x="514.15" y="286" width="1.00" height="11.4" fill="#000" fill-opacity="0.8"/>
<rect x="515.15" y="286" width="27.90" height="11.4" fill="#000" fill-opacity="1"/>
<rect x="543.25" y="286" width="3.00" height="11.4" fill="#000" fill-opacity="0.6"/>
<rect x="550.05" y="286" width="2.30" height="11.4" fill="#000" fill-opacity="1"/>
<rect x="562.20" y="286" width="3.00" height="11.4" fill="#000" fill-opacity="1"/>
</g>
<rect x="445.15" y="30.0" width="126.45" height="21.5" fill="#cbcbcb"/>
<text x="458.77" y="47" font-size="13.8" font-weight="bold" textLength="99.4" lengthAdjust="spacing" fill="#111">75th percentile</text>
<line x1="448.25" y1="21" x2="448.25" y2="30.0" stroke="#1a1a1a" stroke-width="1.2"/>
<line x1="448.25" y1="297.4" x2="448.25" y2="306.3" stroke="#1a1a1a" stroke-width="1.2"/>
<line x1="465.45" y1="21" x2="465.45" y2="30.0" stroke="#1a1a1a" stroke-width="1.2"/>
<line x1="465.45" y1="297.4" x2="465.45" y2="306.3" stroke="#1a1a1a" stroke-width="1.2"/>
<line x1="482.65" y1="21" x2="482.65" y2="30.0" stroke="#1a1a1a" stroke-width="1.2"/>
<line x1="482.65" y1="297.4" x2="482.65" y2="306.3" stroke="#1a1a1a" stroke-width="1.2"/>
<line x1="499.85" y1="21" x2="499.85" y2="30.0" stroke="#1a1a1a" stroke-width="1.2"/>
<line x1="499.85" y1="297.4" x2="499.85" y2="306.3" stroke="#1a1a1a" stroke-width="1.2"/>
<line x1="517.05" y1="21" x2="517.05" y2="30.0" stroke="#1a1a1a" stroke-width="1.2"/>
<line x1="517.05" y1="297.4" x2="517.05" y2="306.3" stroke="#1a1a1a" stroke-width="1.2"/>
<line x1="534.25" y1="21" x2="534.25" y2="30.0" stroke="#1a1a1a" stroke-width="1.2"/>
<line x1="534.25" y1="297.4" x2="534.25" y2="306.3" stroke="#1a1a1a" stroke-width="1.2"/>
<line x1="551.45" y1="21" x2="551.45" y2="30.0" stroke="#1a1a1a" stroke-width="1.2"/>
<line x1="551.45" y1="297.4" x2="551.45" y2="306.3" stroke="#1a1a1a" stroke-width="1.2"/>
<line x1="568.65" y1="21" x2="568.65" y2="30.0" stroke="#1a1a1a" stroke-width="1.2"/>
<line x1="568.65" y1="297.4" x2="568.65" y2="306.3" stroke="#1a1a1a" stroke-width="1.2"/>
<text x="448.25" y="13.5" font-size="18" text-anchor="middle" fill="#111">0</text>
<path transform="translate(460.445,13.5) scale(0.008789,-0.008789)" d="M763,0L583,0L583,1102Q520,1045 418,987Q316,929 223,901L223,1069Q367,1134 475,1226Q583,1318 628,1409L763,1409Z" fill="#111"/>
<text x="482.65" y="13.5" font-size="18" text-anchor="middle" fill="#111">2</text>
<text x="499.85" y="13.5" font-size="18" text-anchor="middle" fill="#111">3</text>
<text x="517.05" y="13.5" font-size="18" text-anchor="middle" fill="#111">4</text>
<text x="534.25" y="13.5" font-size="18" text-anchor="middle" fill="#111">5</text>
<text x="551.45" y="13.5" font-size="18" text-anchor="middle" fill="#111">6</text>
<text x="568.65" y="13.5" font-size="18" text-anchor="middle" fill="#111">7</text>
<g clip-path="url(#c4)"><path d="M573.93,217.21 L574.70,216.59 L575.56,215.89 L576.42,215.19 L577.28,214.48 L578.14,213.77 L579.00,213.05 L579.86,212.33 L580.72,211.60 L581.58,210.87 L582.44,210.13 L583.30,209.38 L584.16,208.63 L585.02,207.87 L585.88,207.10 L586.74,206.33 L587.60,205.55 L588.46,204.77 L589.32,203.97 L590.18,203.17 L591.04,202.36 L591.90,201.55 L592.76,200.72 L593.62,199.89 L594.48,199.05 L595.34,198.21 L596.20,197.35 L597.06,196.49 L597.92,195.61 L598.78,194.73 L599.64,193.84 L600.50,192.95 L601.36,192.04 L602.22,191.12 L603.08,190.20 L603.94,189.26 L604.80,188.32 L605.66,187.37 L606.52,186.41 L607.38,185.44 L608.24,184.46 L609.10,183.47 L609.96,182.47 L610.82,181.47 L611.68,180.45 L612.54,179.43 L613.40,178.40 L614.26,177.36 L615.12,176.31 L615.98,175.25 L616.84,174.19 L617.70,173.11 L618.56,172.03 L619.42,170.94 L620.28,169.84 L621.14,168.74 L622.00,167.63 L622.86,166.51 L623.72,165.38 L624.58,164.25 L625.44,163.11 L626.30,161.96 L627.16,160.80 L628.02,159.64 L628.88,158.48 L629.74,157.31 L630.60,156.13 L631.46,154.94 L632.32,153.75 L633.18,152.56 L634.04,151.36 L634.90,150.15 L635.76,148.94 L636.62,147.72 L637.48,146.50 L638.34,145.28 L639.20,144.05 L640.06,142.81 L640.92,141.57 L641.78,140.33 L642.64,139.08 L643.50,137.83 L644.36,136.58 L645.22,135.32 L646.08,134.06 L646.94,132.80 L647.80,131.53 L648.66,130.26 L649.52,128.98 L650.38,127.71 L651.24,126.42 L652.10,125.14 L652.96,123.86 L653.82,122.57 L654.68,121.28 L655.54,119.98 L656.40,118.69 L657.26,117.39 L658.12,116.09 L658.98,114.78 L659.84,113.48 L660.70,112.17 L661.56,110.86 L662.42,109.55 L663.28,108.23 L664.14,106.92 L665.00,105.60 L665.86,104.28 L666.72,102.96 L667.58,101.64 L668.44,100.32 L669.30,98.99 L670.16,97.66 L671.02,96.33 L671.88,95.00 L672.74,93.67 L673.60,92.34 L674.46,91.01 L675.32,89.67 L676.18,88.33 L677.04,86.99 L677.90,85.66 L678.76,84.31 L679.62,82.97 L680.48,81.63 L681.34,80.29 L682.20,78.94 L683.06,77.60 L683.92,76.25 L684.78,74.90 L685.64,73.55 L686.50,72.20 L687.36,70.85 L688.22,69.50 L689.08,68.15 L689.94,66.79 L690.80,65.44 L691.66,64.08 L692.52,62.73 L693.38,61.37 L694.24,60.02 L695.10,58.66 L695.87,57.43 L695.87,160.64 L695.10,161.14 L694.24,161.70 L693.38,162.25 L692.52,162.81 L691.66,163.37 L690.80,163.92 L689.94,164.48 L689.08,165.04 L688.22,165.60 L687.36,166.16 L686.50,166.73 L685.64,167.29 L684.78,167.85 L683.92,168.42 L683.06,168.98 L682.20,169.55 L681.34,170.12 L680.48,170.69 L679.62,171.26 L678.76,171.83 L677.90,172.40 L677.04,172.98 L676.18,173.55 L675.32,174.13 L674.46,174.70 L673.60,175.28 L672.74,175.86 L671.88,176.44 L671.02,177.03 L670.16,177.61 L669.30,178.20 L668.44,178.78 L667.58,179.37 L666.72,179.96 L665.86,180.55 L665.00,181.15 L664.14,181.74 L663.28,182.34 L662.42,182.94 L661.56,183.54 L660.70,184.14 L659.84,184.75 L658.98,185.36 L658.12,185.97 L657.26,186.58 L656.40,187.19 L655.54,187.81 L654.68,188.43 L653.82,189.05 L652.96,189.67 L652.10,190.30 L651.24,190.93 L650.38,191.56 L649.52,192.20 L648.66,192.84 L647.80,193.48 L646.94,194.12 L646.08,194.77 L645.22,195.42 L644.36,196.08 L643.50,196.74 L642.64,197.40 L641.78,198.07 L640.92,198.74 L640.06,199.41 L639.20,200.09 L638.34,200.77 L637.48,201.46 L636.62,202.15 L635.76,202.85 L634.90,203.55 L634.04,204.26 L633.18,204.97 L632.32,205.69 L631.46,206.41 L630.60,207.14 L629.74,207.87 L628.88,208.61 L628.02,209.36 L627.16,210.11 L626.30,210.87 L625.44,211.63 L624.58,212.41 L623.72,213.19 L622.86,213.97 L622.00,214.77 L621.14,215.57 L620.28,216.37 L619.42,217.19 L618.56,218.01 L617.70,218.84 L616.84,219.68 L615.98,220.53 L615.12,221.39 L614.26,222.25 L613.40,223.12 L612.54,224.00 L611.68,224.89 L610.82,225.79 L609.96,226.70 L609.10,227.61 L608.24,228.54 L607.38,229.47 L606.52,230.42 L605.66,231.37 L604.80,232.33 L603.94,233.30 L603.08,234.28 L602.22,235.27 L601.36,236.26 L600.50,237.27 L599.64,238.28 L598.78,239.31 L597.92,240.34 L597.06,241.38 L596.20,242.43 L595.34,243.48 L594.48,244.55 L593.62,245.62 L592.76,246.71 L591.90,247.79 L591.04,248.89 L590.18,250.00 L589.32,251.11 L588.46,252.23 L587.60,253.36 L586.74,254.49 L585.88,255.63 L585.02,256.78 L584.16,257.93 L583.30,259.09 L582.44,260.26 L581.58,261.43 L580.72,262.61 L579.86,263.80 L579.00,264.99 L578.14,266.18 L577.28,267.38 L576.42,268.59 L575.56,269.80 L574.70,271.01 L573.93,272.11Z" fill="#dae4fc"/>
<line x1="574.70" y1="243.80" x2="695.10" y2="109.90" stroke="#0a5cff" stroke-width="2.4" stroke-linecap="round"/>
<rect x="574.00" y="286" width="1.6" height="11.4" fill="#000" fill-opacity="1"/>
<rect x="578.65" y="286" width="1.1" height="11.4" fill="#000" fill-opacity="1"/>
<rect x="585.60" y="286" width="1.1" height="11.4" fill="#000" fill-opacity="1"/>
<rect x="596.25" y="286" width="1.4" height="11.4" fill="#000" fill-opacity="0.75"/>
<rect x="605.70" y="286" width="1.1" height="11.4" fill="#000" fill-opacity="1"/>
<rect x="619.65" y="286" width="1.1" height="11.4" fill="#000" fill-opacity="1"/>
<rect x="621.55" y="286" width="1.1" height="11.4" fill="#000" fill-opacity="1"/>
<rect x="628.75" y="286" width="1.1" height="11.4" fill="#000" fill-opacity="1"/>
<rect x="630.55" y="286" width="1.1" height="11.4" fill="#000" fill-opacity="1"/>
<rect x="672.70" y="286" width="1.2" height="11.4" fill="#000" fill-opacity="1"/>
<rect x="683.75" y="286" width="1.0" height="11.4" fill="#000" fill-opacity="1"/>
<rect x="693.60" y="286" width="1.1" height="11.4" fill="#000" fill-opacity="1"/>
<rect x="623.90" y="286" width="3.90" height="11.4" fill="#000" fill-opacity="1"/>
<rect x="632.00" y="286" width="1.00" height="11.4" fill="#000" fill-opacity="0.5"/>
<rect x="633.30" y="286" width="3.10" height="11.4" fill="#000" fill-opacity="1"/>
<rect x="636.70" y="286" width="1.00" height="11.4" fill="#000" fill-opacity="0.55"/>
<rect x="637.90" y="286" width="2.70" height="11.4" fill="#000" fill-opacity="1"/>
<rect x="640.60" y="286" width="1.00" height="11.4" fill="#000" fill-opacity="0.8"/>
<rect x="641.60" y="286" width="27.90" height="11.4" fill="#000" fill-opacity="1"/>
<rect x="669.70" y="286" width="3.00" height="11.4" fill="#000" fill-opacity="0.6"/>
<rect x="676.50" y="286" width="2.30" height="11.4" fill="#000" fill-opacity="1"/>
<rect x="688.65" y="286" width="3.00" height="11.4" fill="#000" fill-opacity="1"/>
</g>
<rect x="571.60" y="30.0" width="126.45" height="21.5" fill="#cbcbcb"/>
<text x="585.23" y="47" font-size="13.8" font-weight="bold" textLength="99.4" lengthAdjust="spacing" fill="#111">90th percentile</text>
<line x1="574.70" y1="21" x2="574.70" y2="30.0" stroke="#1a1a1a" stroke-width="1.2"/>
<line x1="574.70" y1="297.4" x2="574.70" y2="306.3" stroke="#1a1a1a" stroke-width="1.2"/>
<line x1="591.90" y1="21" x2="591.90" y2="30.0" stroke="#1a1a1a" stroke-width="1.2"/>
<line x1="591.90" y1="297.4" x2="591.90" y2="306.3" stroke="#1a1a1a" stroke-width="1.2"/>
<line x1="609.10" y1="21" x2="609.10" y2="30.0" stroke="#1a1a1a" stroke-width="1.2"/>
<line x1="609.10" y1="297.4" x2="609.10" y2="306.3" stroke="#1a1a1a" stroke-width="1.2"/>
<line x1="626.30" y1="21" x2="626.30" y2="30.0" stroke="#1a1a1a" stroke-width="1.2"/>
<line x1="626.30" y1="297.4" x2="626.30" y2="306.3" stroke="#1a1a1a" stroke-width="1.2"/>
<line x1="643.50" y1="21" x2="643.50" y2="30.0" stroke="#1a1a1a" stroke-width="1.2"/>
<line x1="643.50" y1="297.4" x2="643.50" y2="306.3" stroke="#1a1a1a" stroke-width="1.2"/>
<line x1="660.70" y1="21" x2="660.70" y2="30.0" stroke="#1a1a1a" stroke-width="1.2"/>
<line x1="660.70" y1="297.4" x2="660.70" y2="306.3" stroke="#1a1a1a" stroke-width="1.2"/>
<line x1="677.90" y1="21" x2="677.90" y2="30.0" stroke="#1a1a1a" stroke-width="1.2"/>
<line x1="677.90" y1="297.4" x2="677.90" y2="306.3" stroke="#1a1a1a" stroke-width="1.2"/>
<line x1="695.10" y1="21" x2="695.10" y2="30.0" stroke="#1a1a1a" stroke-width="1.2"/>
<line x1="695.10" y1="297.4" x2="695.10" y2="306.3" stroke="#1a1a1a" stroke-width="1.2"/>
<text x="574.70" y="327.5" font-size="18" text-anchor="middle" fill="#111">0</text>
<path transform="translate(586.895,327.5) scale(0.008789,-0.008789)" d="M763,0L583,0L583,1102Q520,1045 418,987Q316,929 223,901L223,1069Q367,1134 475,1226Q583,1318 628,1409L763,1409Z" fill="#111"/>
<text x="609.10" y="327.5" font-size="18" text-anchor="middle" fill="#111">2</text>
<text x="626.30" y="327.5" font-size="18" text-anchor="middle" fill="#111">3</text>
<text x="643.50" y="327.5" font-size="18" text-anchor="middle" fill="#111">4</text>
<text x="660.70" y="327.5" font-size="18" text-anchor="middle" fill="#111">5</text>
<text x="677.90" y="327.5" font-size="18" text-anchor="middle" fill="#111">6</text>
<text x="695.10" y="327.5" font-size="18" text-anchor="middle" fill="#111">7</text>
<rect x="65.80" y="30.0" width="126.45" height="267.4" fill="none" stroke="#1a1a1a" stroke-width="1.4"/>
<line x1="65.80" y1="51.5" x2="192.25" y2="51.5" stroke="#1a1a1a" stroke-width="1.4"/>
<rect x="192.25" y="30.0" width="126.45" height="267.4" fill="none" stroke="#1a1a1a" stroke-width="1.4"/>
<line x1="192.25" y1="51.5" x2="318.70" y2="51.5" stroke="#1a1a1a" stroke-width="1.4"/>
<rect x="318.70" y="30.0" width="126.45" height="267.4" fill="none" stroke="#1a1a1a" stroke-width="1.4"/>
<line x1="318.70" y1="51.5" x2="445.15" y2="51.5" stroke="#1a1a1a" stroke-width="1.4"/>
<rect x="445.15" y="30.0" width="126.45" height="267.4" fill="none" stroke="#1a1a1a" stroke-width="1.4"/>
<line x1="445.15" y1="51.5" x2="571.60" y2="51.5" stroke="#1a1a1a" stroke-width="1.4"/>
<rect x="571.60" y="30.0" width="126.45" height="267.4" fill="none" stroke="#1a1a1a" stroke-width="1.4"/>
<line x1="571.60" y1="51.5" x2="698.05" y2="51.5" stroke="#1a1a1a" stroke-width="1.4"/>
<line x1="57" y1="258.00" x2="65.80" y2="258.00" stroke="#1a1a1a" stroke-width="1.2"/>
<line x1="698.05" y1="258.00" x2="707" y2="258.00" stroke="#1a1a1a" stroke-width="1.2"/>
<text x="48.5" y="264.90" font-size="18" text-anchor="end" fill="#111">0.2</text>
<line x1="57" y1="238.40" x2="65.80" y2="238.40" stroke="#1a1a1a" stroke-width="1.2"/>
<line x1="698.05" y1="238.40" x2="707" y2="238.40" stroke="#1a1a1a" stroke-width="1.2"/>
<text x="48.5" y="245.30" font-size="18" text-anchor="end" fill="#111">0.4</text>
<line x1="57" y1="222.20" x2="65.80" y2="222.20" stroke="#1a1a1a" stroke-width="1.2"/>
<line x1="698.05" y1="222.20" x2="707" y2="222.20" stroke="#1a1a1a" stroke-width="1.2"/>
<text x="48.5" y="229.10" font-size="18" text-anchor="end" fill="#111">0.6</text>
<line x1="57" y1="202.60" x2="65.80" y2="202.60" stroke="#1a1a1a" stroke-width="1.2"/>
<line x1="698.05" y1="202.60" x2="707" y2="202.60" stroke="#1a1a1a" stroke-width="1.2"/>
<text x="48.5" y="209.50" font-size="18" text-anchor="end" fill="#111">0.8</text>
<text x="381.9" y="358.2" font-size="18.2" text-anchor="middle" fill="#111">ln(Anti-MAA IgA concentration)</text>
<text transform="translate(11.2,237.6) rotate(-90)" x="0" y="0" font-size="13.4" textLength="148.4" lengthAdjust="spacingAndGlyphs" fill="#222">Prob(coronary calcium)</text>
</svg></body></html>
